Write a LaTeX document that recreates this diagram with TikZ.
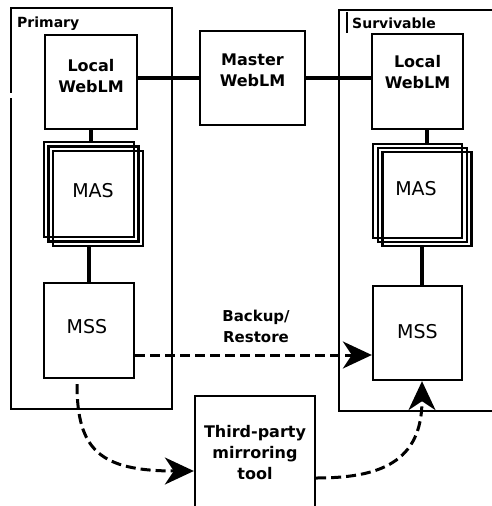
\documentclass[tikz,border=0pt]{standalone}
\usepackage{fontspec}
\setmainfont{DejaVu Sans}
\usetikzlibrary{arrows.meta,calc}
\begin{document}
\begin{tikzpicture}[x=1pt,y=-1pt,
  box/.style={draw,line width=2.3pt,inner sep=0pt},
  grp/.style={line width=2.3pt},
  lbl/.style={font=\bfseries\fontsize{16}{21}\selectfont,align=center,inner sep=0pt},
  sml/.style={font=\fontsize{19}{21}\selectfont,inner sep=0pt},
  glbl/.style={font=\bfseries\fontsize{14}{16}\selectfont,anchor=west,inner sep=0pt},
  conn/.style={line width=3.2pt},
  dsh/.style={line width=3pt,dash pattern=on 10pt off 5pt,
    -{Stealth[length=29pt,width=27pt,inset=9pt]}}]
\useasboundingbox (0,0) rectangle (492,506);
\clip (0,0) rectangle (492,506);
% group frames
\draw[grp] (11,98) -- (11,409) -- (172,409) -- (172,8) -- (11,8) -- (11,93);
\draw[grp] (339,10) rectangle (520,411);
\node[glbl] (gP) at (17,23.5) {Primary};
\node[glbl] (gS) at (352,23.5) {Survivable};
\draw[line width=1.3pt] (347,12) -- (347,33);
% boxes
\node[box,minimum width=92pt,minimum height=94pt] (lwP) at (91,82) {};
\node[lbl] at ([yshift=5.5pt]lwP.center) {Local\\WebLM};
\node[box,minimum width=105pt,minimum height=94pt] (mw) at (252.5,78) {};
\node[lbl] at ([yshift=8pt]mw.center) {Master\\WebLM};
\node[box,minimum width=91pt,minimum height=95pt] (lwS) at (417.5,81.5) {};
\node[lbl] at ([yshift=9pt]lwS.center) {Local\\WebLM};
% MAS stacks
\node[box,minimum width=90pt,minimum height=95pt] (masP1) at (89,189.5) {};
\node[box,minimum width=90pt,minimum height=95pt] (masP2) at (93.5,194) {};
\node[box,minimum width=90pt,minimum height=95pt] (masP3) at (98,198.5) {};
\node[sml] at (93,191) {MAS};
\node[box,minimum width=89pt,minimum height=94pt] (masS1) at (417.5,191) {};
\node[box,minimum width=89pt,minimum height=94pt] (masS2) at (422.5,195) {};
\node[box,minimum width=89pt,minimum height=94pt] (masS3) at (427,199) {};
\node[sml] at (416,189) {MAS};
% MSS
\node[box,minimum width=90pt,minimum height=95pt] (mssP) at (89,330.5) {};
\node[sml] at ([shift={(-2,-3.5)}]mssP.center) {MSS};
\node[box,minimum width=89pt,minimum height=94pt] (mssS) at (417.5,333) {};
\node[sml] at ([yshift=1pt]mssS.center) {MSS};
% third party
\node[box,minimum width=120pt,minimum height=140pt,anchor=north] (tp) at (255,395) {};
\node[lbl] at (255,453) {Third-party\\mirroring\\tool};
% solid connectors
\draw[conn] (mw.west -| lwP.east) -- (mw.west);
\draw[conn] (mw.east) -- (mw.east -| lwS.west);
\draw[conn] (lwP.south) -- (lwP.south |- masP1.north);
\draw[conn] (masP3.south -| mssP.north) -- (mssP.north);
\draw[conn] ([xshift=9.5pt]lwS.south) -- ([xshift=9.5pt]lwS.south |- masS1.north);
\draw[conn] ([xshift=4.5pt]mssS.north |- masS3.south) -- ([xshift=4.5pt]mssS.north);
% backup / restore
\coordinate (bk) at (0,355);
\draw[dsh] (mssP.east |- bk) -- (mssS.west |- bk);
\node[lbl,font=\bfseries\fontsize{15}{21}\selectfont] (br) at (256,326.5) {Backup/\\Restore};
% mirroring arrows
\coordinate (m1) at (0,471);
\coordinate (m2) at (0,478);
\draw[dsh] ([shift={(-12,5)}]mssP.south) .. controls (77,450) and (100,471) .. (tp.west |- m1);
\draw[dsh] (tp.east |- m2) .. controls (380,478) and (422,462) .. ([xshift=4.5pt]mssS.south);
\end{tikzpicture}
\end{document}
